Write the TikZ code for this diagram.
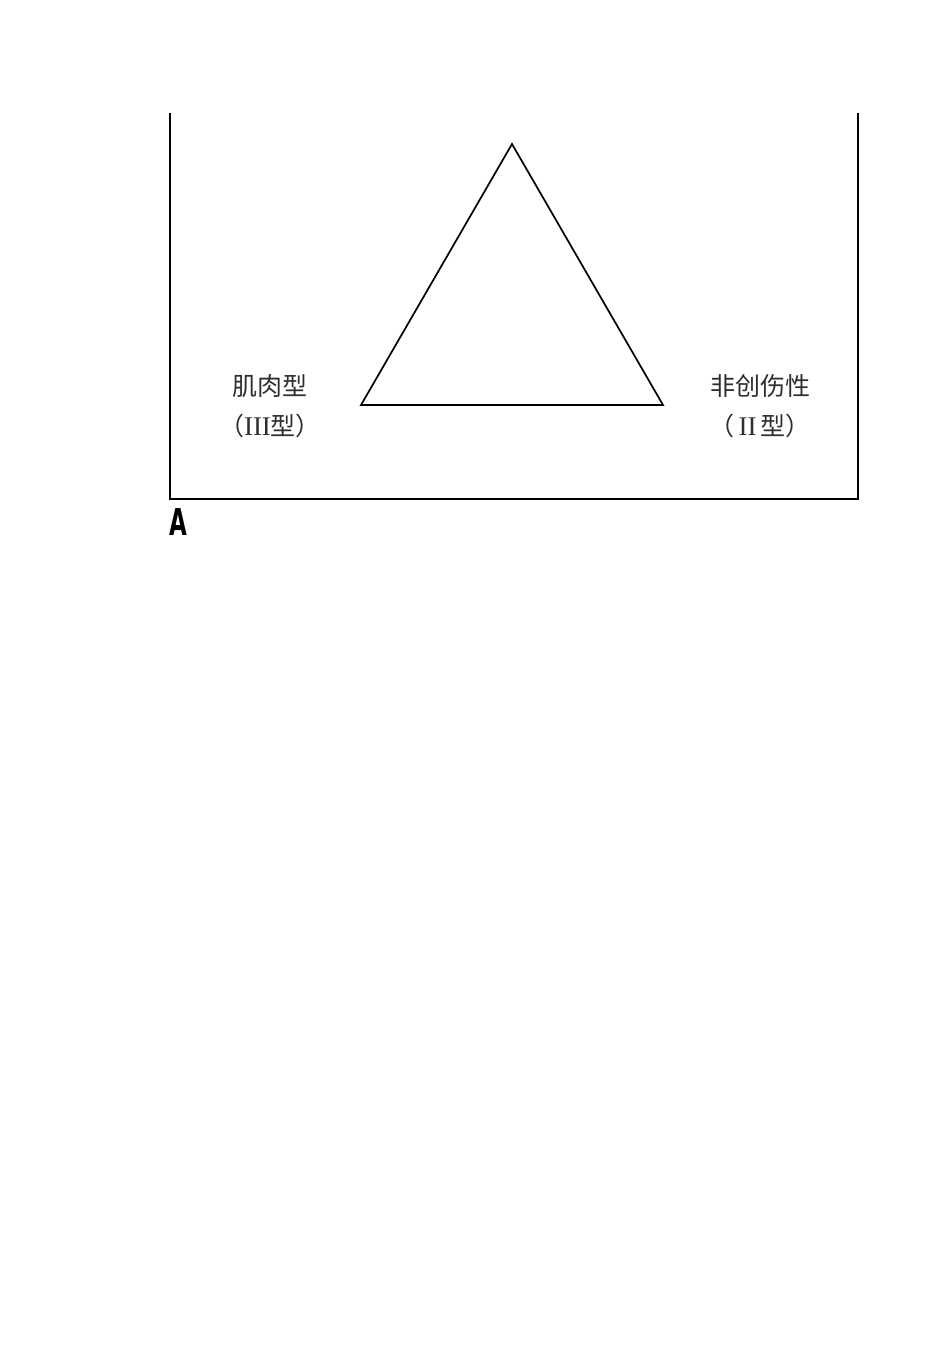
\documentclass[tikz,border=0pt]{standalone}
\usepackage{fontspec}
\newfontfamily\cjk{Noto Sans CJK SC}
\newfontfamily\romanfont{Liberation Serif}
\newfontfamily\labelfont{DejaVu Sans}
\usepackage{tikz}
\usetikzlibrary{calc, positioning}
\tikzset{
    framenode/.style = {draw=none, fill=none, inner sep = 0em},
    textnode/.style  = {draw=none, fill=none, rectangle, inner sep = 0em, text=black!82,
      font=\cjk\fontsize{25}{40}\selectfont},
    panelnode/.style = {draw=none, fill=none, inner sep = 0em, anchor=north west,
      font=\labelfont\bfseries\fontsize{37}{37}\selectfont},
    edgeline/.style = {black, line width=1.7pt, line join=miter},
    boxline/.style = {black, line width=2pt},
    every text node part/.style={align=center}
}
\newcommand{\rom}[1]{{\romanfont\fontsize{27}{40}\selectfont #1}}

\begin{document}
\begin{tikzpicture}[x=1pt, y=-1pt]
\useasboundingbox (0,0) rectangle (950,1346);
\coordinate (FrameTL) at (170,113);
\coordinate (FrameBL) at (170,499);
\coordinate (FrameBR) at (858,499);
\coordinate (FrameTR) at (858,113);
\draw [boxline] (FrameTL) -- (FrameBL) -- (FrameBR) -- (FrameTR);

\coordinate (Apex) at (512,144);
\coordinate (BaseL) at (361,405);
\coordinate (BaseR) at (663,405);
\draw [edgeline] (Apex) -- (BaseL) -- (BaseR) -- cycle;

\node [textnode, name=Muscle] at (270,406) {肌肉型\\（\rom{III}型）};
\node [textnode, name=Nontrauma] at (760,406) {非创伤性\\（\,\rom{II}\,型）};

\node [panelnode, name=PanelA, xscale=0.62] at (169,508) {A};
\end{tikzpicture}
\end{document}
